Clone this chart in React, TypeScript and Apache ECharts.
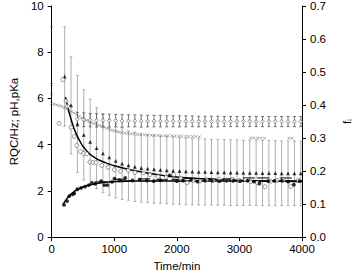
import React, { useEffect, useRef } from "react";
import * as echarts from "echarts";

// Time grid of the triangle / diamond series (min)
const gridTimes = [207, 309, 411, 513, 615, 717, 819, 921, 1023, 1125, 1227, 1329, 1431, 1533, 1635, 1737, 1839, 1941, 2043, 2145, 2247, 2349, 2451, 2553, 2655, 2757, 2859, 2961, 3063, 3165, 3267, 3369, 3471, 3573, 3675, 3777, 3879, 3981];

// Filled triangles with grey error bars
const triValues = [6.95, 5.70, 4.90, 4.42, 4.12, 3.85, 3.62, 3.45, 3.30, 3.18, 3.10, 3.04, 2.99, 2.96, 2.93, 2.91, 2.89, 2.87, 2.86, 2.84, 2.83, 2.82, 2.82, 2.81, 2.80, 2.80, 2.79, 2.79, 2.78, 2.78, 2.78, 2.77, 2.77, 2.77, 2.76, 2.76, 2.76, 2.76];
const triErrors = [2.15, 2.1, 2.1, 1.95, 1.85, 1.75, 1.7, 1.65, 1.6, 1.55, 1.5, 1.5, 1.48, 1.47, 1.46, 1.45, 1.45, 1.45, 1.44, 1.44, 1.43, 1.43, 1.43, 1.42, 1.42, 1.42, 1.42, 1.42, 1.41, 1.41, 1.41, 1.41, 1.41, 1.41, 1.40, 1.40, 1.40, 1.40];

// Open diamonds with black error bars (from the 3rd grid time)
const diaValues = [5.10, 5.08, 5.06, 5.05, 5.05, 5.04, 5.04, 5.03, 5.03, 5.03, 5.02, 5.02, 5.02, 5.02, 5.01, 5.01, 5.01, 5.01, 5.01, 5.00, 5.00, 5.00, 5.00, 5.00, 5.00, 5.00, 5.00, 5.00, 5.00, 5.00, 5.00, 5.00, 5.00, 5.00, 5.00, 5.00];
const diaErrors = [0.3, 0.3, 0.29, 0.29, 0.28, 0.28, 0.27, 0.27, 0.26, 0.26, 0.26, 0.25, 0.25, 0.25, 0.24, 0.24, 0.24, 0.24, 0.23, 0.23, 0.23, 0.23, 0.23, 0.22, 0.22, 0.22, 0.22, 0.22, 0.22, 0.22, 0.22, 0.22, 0.22, 0.22, 0.22, 0.22];

// Open circles [time, value]
const openCircles = [[120, 4.92], [178, 6.82], [230, 5.89], [255, 5.66], [310, 4.75], [360, 4.35], [400, 3.96], [460, 3.7], [510, 3.62], [560, 3.6], [610, 3.25], [660, 3.23], [710, 3.22], [800, 3.1], [900, 3.02], [1000, 2.92], [1100, 2.85], [1225, 2.89], [1330, 2.8], [1467, 2.78], [1570, 2.7], [1700, 2.62], [1830, 2.6], [1951, 2.7], [2060, 2.55], [2163, 2.35], [2260, 2.45], [2370, 2.42], [2470, 2.48], [2580, 2.45], [2680, 2.5], [2790, 2.47], [2890, 2.5], [3000, 2.45], [3100, 2.48], [3180, 2.4], [3284, 2.35], [3407, 2.18], [3500, 2.42], [3600, 2.45], [3700, 2.47], [3818, 2.19], [3941, 2.46]];

// Filled circles [time, value]
const filledCircles = [[197, 1.39], [247, 1.56], [281, 1.77], [336, 1.85], [360, 1.89], [410, 2.07], [469, 2.13], [533, 2.18], [593, 2.25], [642, 2.35], [692, 2.3], [790, 2.42], [840, 2.25], [889, 2.25], [963, 2.39], [1003, 2.53], [1086, 2.46], [1175, 2.56], [1290, 2.45], [1407, 2.49], [1520, 2.45], [1630, 2.42], [1738, 2.46], [1886, 2.67], [2000, 2.42], [2100, 2.44], [2230, 2.5], [2330, 2.4], [2450, 2.45], [2560, 2.44], [2680, 2.42], [2790, 2.45], [2900, 2.43], [3010, 2.42], [3130, 2.44], [3230, 2.4], [3320, 2.32], [3460, 2.42], [3560, 2.43], [3680, 2.44], [3780, 2.4], [3870, 2.27], [3960, 2.42]];

// Crosses [time, value]
const crosses = [[0, 9.1], [0, 6.6], [0, 6.2], [0, 5.78], [40, 5.75], [80, 5.72], [120, 5.69], [160, 5.65], [200, 5.6], [240, 5.55], [280, 5.49], [320, 5.43], [360, 5.37], [400, 5.31], [440, 5.22], [480, 5.16], [520, 5.1], [560, 5.05], [600, 5.0], [640, 4.95], [680, 4.91], [720, 4.87], [760, 4.83], [800, 4.79], [840, 4.75], [880, 4.71], [920, 4.67], [960, 4.63], [1000, 4.6], [1040, 4.57], [1080, 4.54], [1120, 4.52], [1170, 4.5], [1220, 4.49], [1270, 4.47], [1320, 4.46], [1370, 4.44], [1420, 4.43], [1480, 4.42], [1530, 4.42], [1590, 4.41], [1640, 4.4], [1700, 4.4], [1750, 4.39], [1810, 4.39], [1860, 4.38], [1920, 4.38], [1970, 4.37], [2030, 4.37], [2080, 4.36], [2140, 4.36], [2190, 4.35], [2250, 4.35], [2300, 4.35], [2360, 4.34], [3180, 4.29], [3230, 4.29], [3290, 4.28], [3340, 4.28], [3400, 4.28], [3790, 4.28], [3840, 4.28]];

// Fitted curves [time, value]
const decayFit = [[220, 6.06], [250, 5.7], [280, 5.38], [320, 5.0], [360, 4.68], [400, 4.42], [450, 4.15], [500, 3.93], [600, 3.62], [700, 3.42], [800, 3.28], [900, 3.18], [1000, 3.09], [1200, 2.95], [1400, 2.84], [1600, 2.74], [1800, 2.66], [2000, 2.6], [2400, 2.52], [2800, 2.47], [3200, 2.44], [3600, 2.42], [4000, 2.41]];
const riseFit = [[180, 1.4], [220, 1.58], [260, 1.72], [300, 1.84], [350, 1.95], [400, 2.04], [450, 2.11], [500, 2.17], [600, 2.25], [700, 2.31], [800, 2.35], [900, 2.38], [1000, 2.4], [1200, 2.42], [1500, 2.43], [2000, 2.43], [3000, 2.43], [4000, 2.43]];

// Short horizontal dashes [time, value]
const dashes = [[780, 2.39], [1090, 2.5], [1190, 2.43], [1480, 2.52], [1760, 2.48], [2010, 2.5], [2210, 2.55], [2520, 2.53], [2830, 2.53], [3150, 2.56], [3380, 2.56], [3740, 2.56]];

const FONT = "Liberation Sans, Arial, sans-serif";

function errorBarRender(color: string, cap: number, lw: number) {
  return (params: any, api: any) => {
    const x = api.value(0);
    const lo = api.coord([x, api.value(1)]);
    const hi = api.coord([x, api.value(2)]);
    const style = { stroke: color, lineWidth: lw };
    return {
      type: "group",
      children: [
        { type: "line", shape: { x1: lo[0], y1: lo[1], x2: hi[0], y2: hi[1] }, style },
        { type: "line", shape: { x1: lo[0] - cap, y1: lo[1], x2: lo[0] + cap, y2: lo[1] }, style },
        { type: "line", shape: { x1: hi[0] - cap, y1: hi[1], x2: hi[0] + cap, y2: hi[1] }, style },
      ],
    };
  };
}

export default function App() {
  const ref = useRef<HTMLDivElement>(null);
  useEffect(() => {
    document.body.style.margin = "0";
    const chart = echarts.init(ref.current!, null, { renderer: "svg" });
    const triBars = gridTimes.map((t, i) => [t, triValues[i] - triErrors[i], triValues[i] + triErrors[i]]);
    const diaTimes = gridTimes.slice(2);
    const diaBars = diaTimes.map((t, i) => [t, diaValues[i] - diaErrors[i], diaValues[i] + diaErrors[i]]);
    const nameStyle = { color: "#000", fontSize: 11.5, fontFamily: FONT, fontWeight: "normal" };
    const axisCommon = {
      axisLine: { show: true, lineStyle: { color: "#000", width: 1 } },
      axisTick: { show: true, inside: false, length: 4, lineStyle: { color: "#000" } },
      splitLine: { show: false },
      axisLabel: { color: "#000", fontSize: 11.5, fontFamily: FONT },
      nameTextStyle: nameStyle,
    };
    chart.setOption({
      animation: false,
      backgroundColor: "#fff",
      grid: { left: 40, right: 51, top: 6, bottom: 38 },
      xAxis: {
        type: "value", min: 0, max: 4000, interval: 1000,
        ...axisCommon,
        axisLabel: { ...axisCommon.axisLabel, margin: 6, formatter: (v: number) => String(v) },
        name: "Time/min", nameLocation: "middle", nameGap: 22,
      },
      yAxis: [
        {
          type: "value", min: 0, max: 10, interval: 2, position: "left",
          ...axisCommon,
          axisLabel: { ...axisCommon.axisLabel, margin: 8 },
          name: "RQC/Hz; pH,pKa", nameLocation: "middle", nameGap: 24, nameRotate: 90,
        },
        {
          type: "value", min: 0, max: 0.7, interval: 0.1, position: "right",
          ...axisCommon,
          axisLabel: { ...axisCommon.axisLabel, margin: 8, formatter: (v: number) => v.toFixed(1) },
          name: "{a|f}{b|i}", nameLocation: "middle", nameGap: 38, nameRotate: 90,
          nameTextStyle: {
            ...nameStyle,
            rich: { a: { fontSize: 11.5, fontFamily: FONT, color: "#000" }, b: { fontSize: 7, fontFamily: FONT, color: "#000", padding: [6, 0, 0, 0] } },
          },
        },
      ],
      series: [
        {
          type: "custom", renderItem: errorBarRender("#9a9a9a", 1.4, 0.8), data: triBars,
          encode: { x: 0, y: [1, 2] }, z: 1, silent: true,
        },
        {
          type: "custom", renderItem: errorBarRender("#555", 1.5, 0.8), data: diaBars,
          encode: { x: 0, y: [1, 2] }, z: 2, silent: true,
        },
        {
          type: "line", data: decayFit, showSymbol: false, smooth: true,
          lineStyle: { color: "#000", width: 1.5 }, z: 3, silent: true,
        },
        {
          type: "line", data: riseFit, showSymbol: false, smooth: true,
          lineStyle: { color: "#000", width: 1.5 }, z: 3, silent: true,
        },
        {
          type: "scatter", data: dashes, symbol: "rect", symbolSize: [12, 1.3],
          itemStyle: { color: "#000" }, z: 4, silent: true,
        },
        {
          type: "scatter", data: crosses, symbol: "path://M0 0L10 10M10 0L0 10", symbolSize: 2.8,
          itemStyle: { color: "transparent", borderColor: "#555", borderWidth: 0.6 }, z: 4, silent: true,
        },
        {
          type: "scatter", data: diaTimes.map((t, i) => [t, diaValues[i]]), symbol: "diamond", symbolSize: 3.8,
          itemStyle: { color: "#fff", borderColor: "#444", borderWidth: 0.7 }, z: 5, silent: true,
        },
        {
          type: "scatter", data: gridTimes.map((t, i) => [t, triValues[i]]), symbol: "triangle", symbolSize: 3.8,
          itemStyle: { color: "#000" }, z: 5, silent: true,
        },
        {
          type: "scatter", data: openCircles, symbol: "circle", symbolSize: 4,
          itemStyle: { color: "#fff", borderColor: "#444", borderWidth: 0.7 }, z: 6, silent: true,
        },
        {
          type: "scatter", data: filledCircles, symbol: "circle", symbolSize: 3.8,
          itemStyle: { color: "#000" }, z: 7, silent: true,
        },
      ],
    });
    return () => chart.dispose();
  }, []);
  return <div ref={ref} style={{ position: "absolute", left: 0, top: 0, width: 361, height: 277 }} />;
}
